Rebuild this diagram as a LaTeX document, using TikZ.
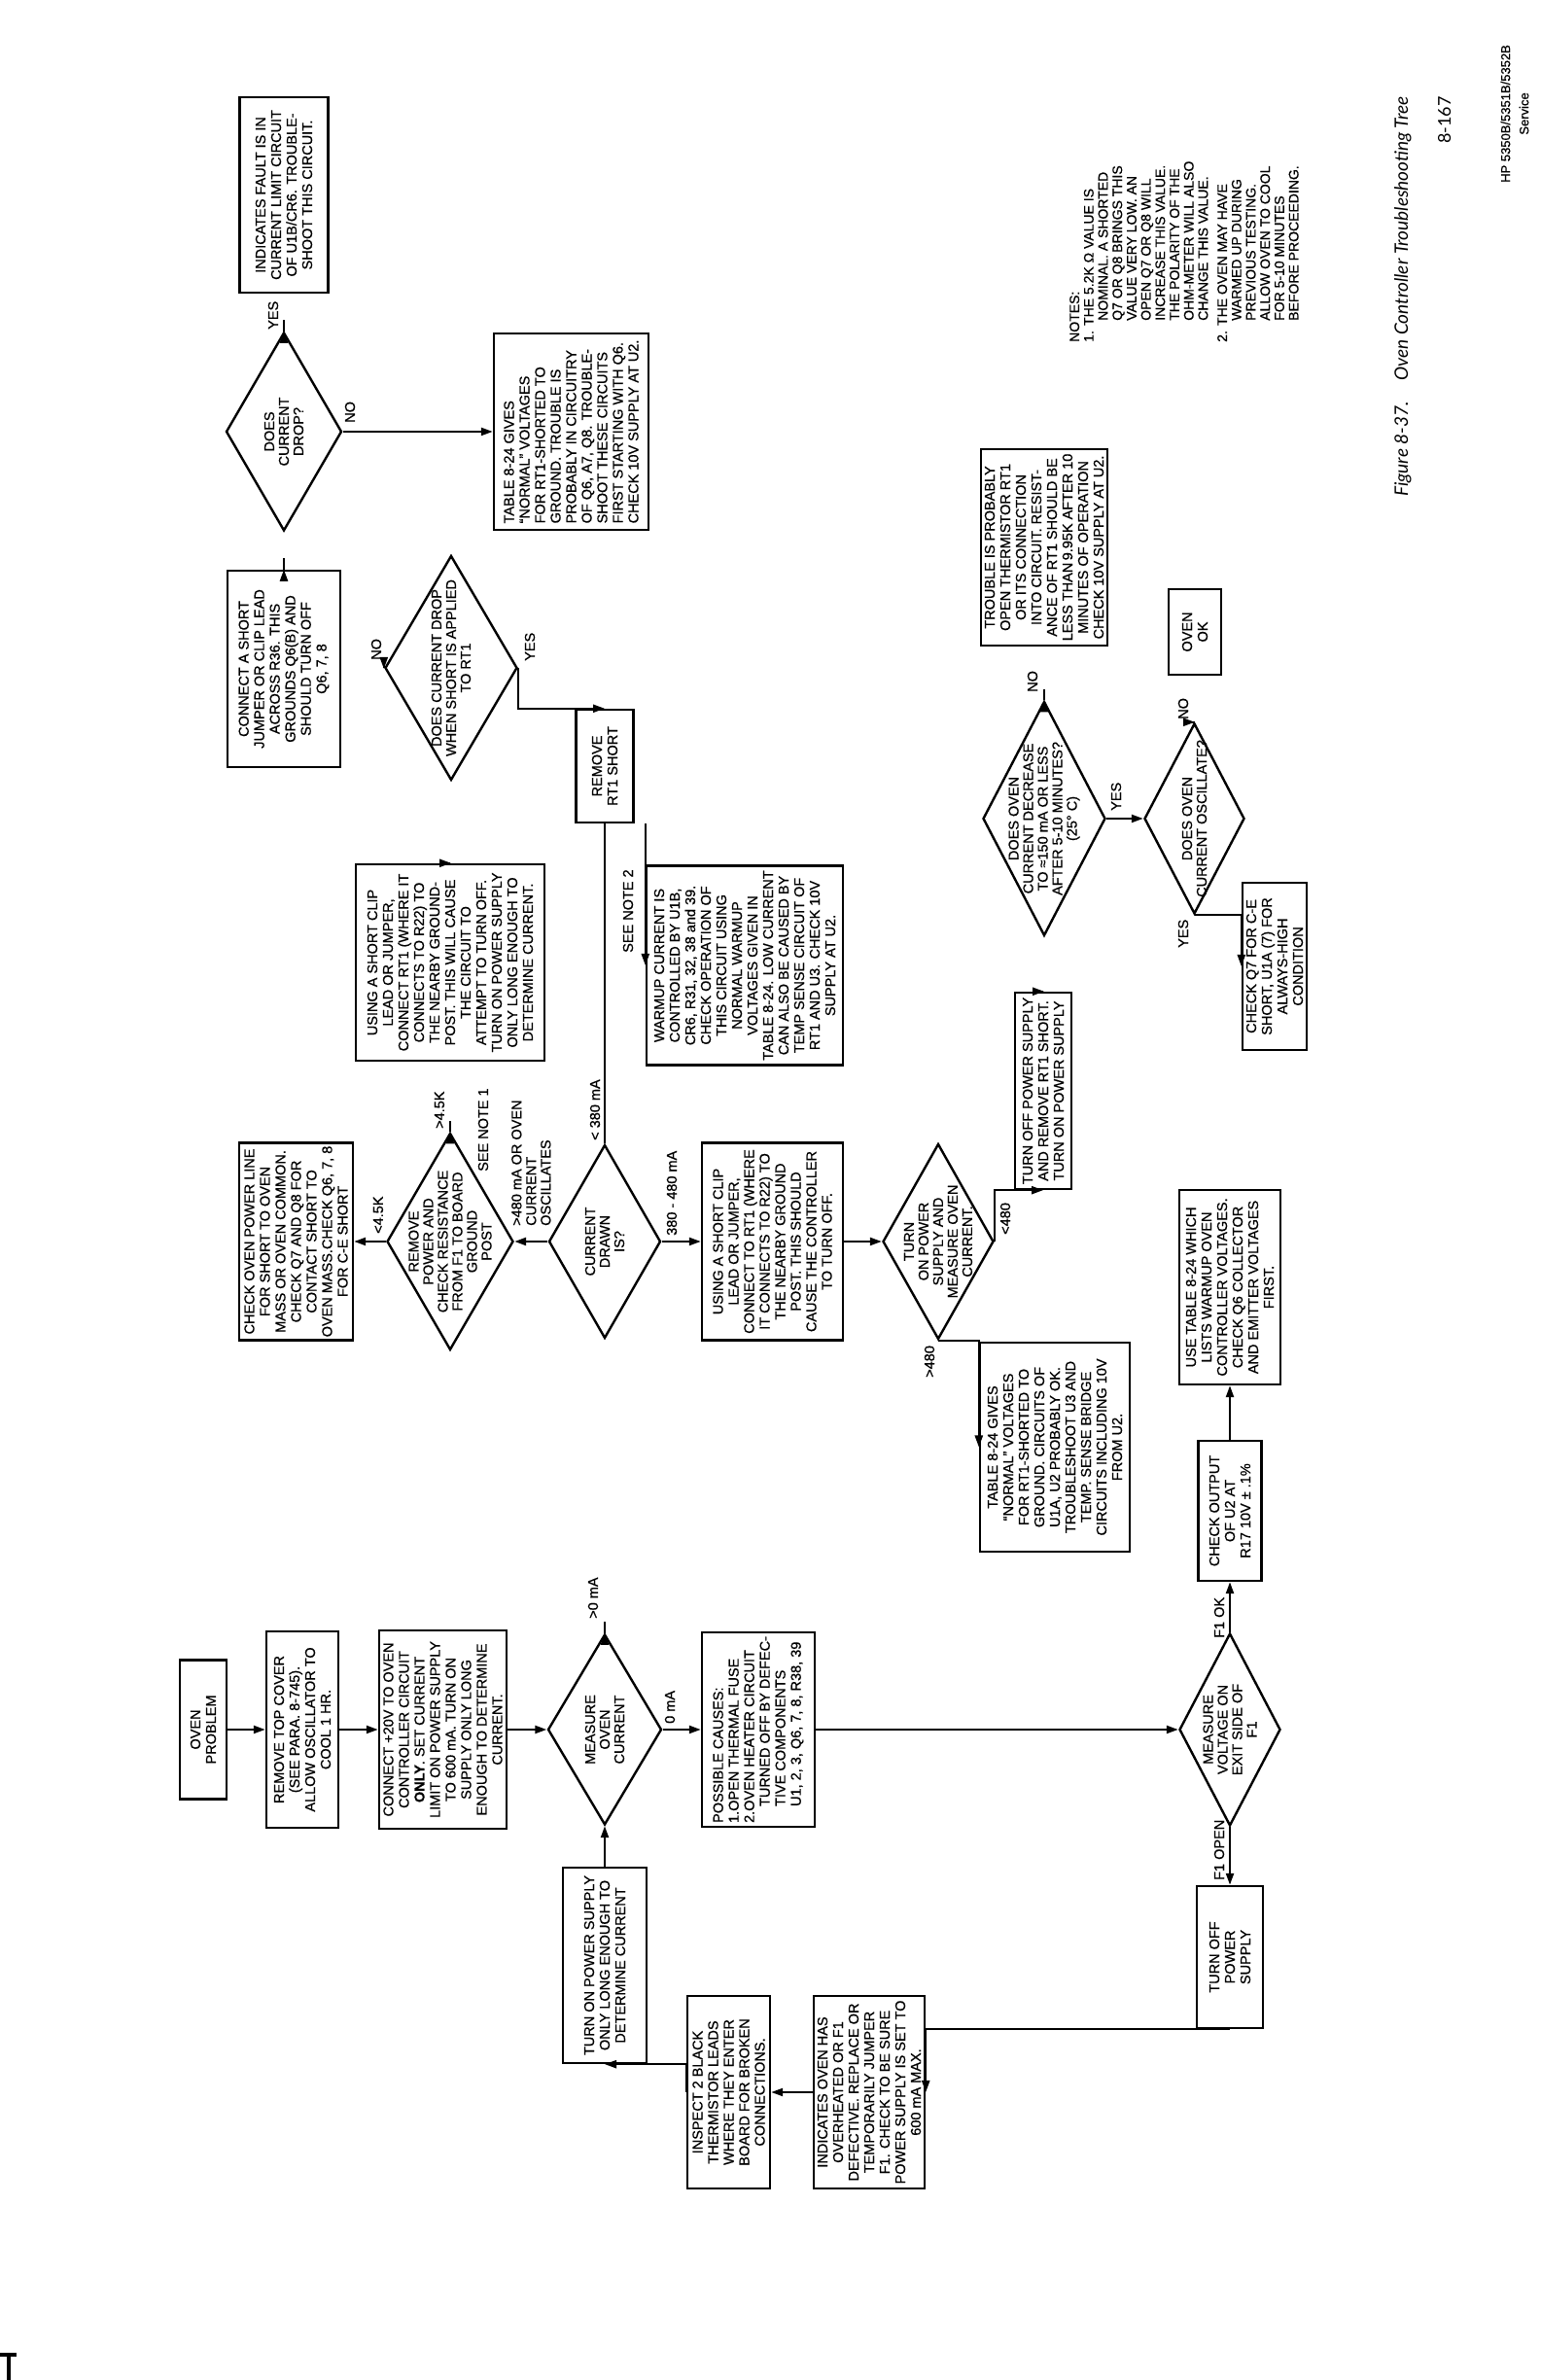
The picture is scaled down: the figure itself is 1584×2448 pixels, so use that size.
\documentclass[tikz,border=0pt]{standalone}
\usepackage{fontspec}
\setmainfont{Liberation Sans}[FakeBold=0.6]
\newfontfamily\capfont{Lato}
\usetikzlibrary{shapes.geometric,arrows.meta}
\newcommand\bxf{\fontsize{14.5}{16}\selectfont}
\newcommand\dmf{\fontsize{14.5}{15}\selectfont}
\newcommand\ntf{\fontsize{14}{14.7}\selectfont}
\begin{document}
\begin{tikzpicture}[x=1pt,y=1pt,
  box/.style={draw,line width=2.4pt,align=center,inner sep=1pt,font=\bxf},
  dia/.style={draw,diamond,line width=2.4pt,inner sep=0pt},
  dtx/.style={align=center,inner sep=0pt,font=\dmf},
  con/.style={line width=2.2pt},
  arr/.style={con,-{Triangle[length=12pt,width=8pt]}},
  lab/.style={inner sep=0pt,font=\bxf,anchor=west},
]
\fill[white] (0,0) rectangle (1584,2448);
\useasboundingbox (0,0) rectangle (1584,2448);
\fill[black] (0,24) rectangle (17,28);
\fill[black] (7,0) rectangle (11,28);
\begin{scope}[rotate=90,transform shape]
% ---------- column 1
\node[box,minimum width=143pt,minimum height=48pt] (X1) at (669,-209) {OVEN\\PROBLEM};
\node[box,minimum width=202pt,minimum height=74pt] (Y1) at (669,-311) {REMOVE TOP COVER\\(SEE PARA. 8-745).\\ALLOW OSCILLATOR TO\\COOL 1 HR.};
\node[box,minimum width=204pt,minimum height=131pt] (Z1) at (669,-455.5) {CONNECT +20V TO OVEN\\CONTROLLER CIRCUIT\\\textbf{ONLY}. SET CURRENT\\LIMIT ON POWER SUPPLY\\TO 600 mA. TURN ON\\SUPPLY ONLY LONG\\ENOUGH TO DETERMINE\\CURRENT.};
\node[dia,minimum width=196pt,minimum height=117pt] (AB) at (669,-622) {};
\node[dtx] (ABt) at (AB) {MEASURE\\OVEN\\CURRENT};
\node[box,minimum width=200pt,minimum height=116pt,align=left] (AC) at (669,-780) {POSSIBLE CAUSES:\\1.OPEN THERMAL FUSE\\2.OVEN HEATER CIRCUIT\\\hspace*{17pt}TURNED OFF BY DEFEC-\\\hspace*{17pt}TIVE COMPONENTS\\\hspace*{17pt}U1, 2, 3, Q6, 7, 8, R38, 39};
\node[dia,minimum width=198pt,minimum height=104pt] (W) at (669,-1265) {};
\node[dtx] (Wt) at (W) {MEASURE\\VOLTAGE ON\\EXIT SIDE OF\\F1};
\node[box,minimum width=201pt,minimum height=86pt] (AA) at (426.5,-622) {TURN ON POWER SUPPLY\\ONLY LONG ENOUGH TO\\DETERMINE CURRENT};
\node[box,minimum width=198pt,minimum height=85pt] (AD) at (296,-749.5) {INSPECT 2 BLACK\\THERMISTOR LEADS\\WHERE THEY ENTER\\BOARD FOR BROKEN\\CONNECTIONS.};
\node[box,minimum width=198pt,minimum height=114pt] (AE) at (296,-894) {INDICATES OVEN HAS\\OVERHEATED OR F1\\DEFECTIVE. REPLACE OR\\TEMPORARILY JUMPER\\F1. CHECK TO BE SURE\\POWER SUPPLY IS SET TO\\600 mA MAX.};
\node[box,minimum width=146pt,minimum height=68pt] (AF) at (435,-1265) {TURN OFF\\POWER\\SUPPLY};
\node[box,minimum width=144pt,minimum height=65pt] (V) at (894,-1265) {CHECK OUTPUT\\OF U2 AT\\R17 10V ± .1\%};
\node[box,minimum width=200pt,minimum height=104pt] (U) at (1124,-1265) {USE TABLE 8-24 WHICH\\LISTS WARMUP OVEN\\CONTROLLER VOLTAGES.\\CHECK Q6 COLLECTOR\\AND EMITTER VOLTAGES\\FIRST.};
\node[box,minimum width=215pt,minimum height=154pt] (N) at (959.5,-1085) {TABLE 8-24 GIVES\\“NORMAL” VOLTAGES\\FOR RT1-SHORTED TO\\GROUND. CIRCUITS OF\\U1A, U2 PROBABLY OK.\\TROUBLESHOOT U3 AND\\TEMP. SENSE BRIDGE\\CIRCUITS INCLUDING 10V\\FROM U2.};
% ---------- column I
\node[dia,minimum width=199pt,minimum height=115pt] (I) at (1171,-622) {};
\node[dtx] (It) at (I) {CURRENT\\DRAWN\\IS?};
\node[dia,minimum width=223pt,minimum height=130pt] (K) at (1171,-463) {};
\node[dtx] (Kt) at (K) {REMOVE\\POWER AND\\CHECK RESISTANCE\\FROM F1 TO BOARD\\GROUND\\POST};
\node[box,minimum width=203pt,minimum height=117pt] (L) at (1171,-304.5) {CHECK OVEN POWER LINE\\FOR SHORT TO OVEN\\MASS OR OVEN COMMON.\\CHECK Q7 AND Q8 FOR\\CONTACT SHORT TO\\OVEN MASS.CHECK Q6, 7, 8\\FOR C-E SHORT};
\node[box,minimum width=203pt,minimum height=145pt] (J) at (1171,-794.5) {USING A SHORT CLIP\\LEAD OR JUMPER,\\CONNECT TO RT1 (WHERE\\IT CONNECTS TO R22) TO\\THE NEARBY GROUND\\POST. THIS SHOULD\\CAUSE THE CONTROLLER\\TO TURN OFF.};
\node[dia,minimum width=201pt,minimum height=114pt] (M) at (1171,-965) {};
\node[dtx] (Mt) at (M) {TURN\\ON POWER\\SUPPLY AND\\MEASURE OVEN\\CURRENT.};
\node[box,minimum width=202pt,minimum height=58pt] (O) at (1326,-1073) {TURN OFF POWER SUPPLY\\AND REMOVE RT1 SHORT.\\TURN ON POWER SUPPLY};
% ---------- column G/H
\node[box,minimum width=202pt,minimum height=194pt] (G) at (1458,-463) {USING A SHORT CLIP\\LEAD OR JUMPER,\\CONNECT RT1 (WHERE IT\\CONNECTS TO R22) TO\\THE NEARBY GROUND-\\POST. THIS WILL CAUSE\\THE CIRCUIT TO\\ATTEMPT TO TURN OFF.\\TURN ON POWER SUPPLY\\ONLY LONG ENOUGH TO\\DETERMINE CURRENT.};
\node[box,minimum width=205pt,minimum height=202pt] (H) at (1455,-766) {WARMUP CURRENT IS\\CONTROLLED BY U1B,\\CR6, R31, 32, 38 and 39.\\CHECK OPERATION OF\\THIS CIRCUIT USING\\NORMAL WARMUP\\VOLTAGES GIVEN IN\\TABLE 8-24. LOW CURRENT\\CAN ALSO BE CAUSED BY\\TEMP SENSE CIRCUIT OF\\RT1 AND U3. CHECK 10V\\SUPPLY AT U2.};
\node[box,minimum width=172pt,minimum height=66pt] (T) at (1454,-1311) {CHECK Q7 FOR C-E\\SHORT, U1A (7) FOR\\ALWAYS-HIGH\\CONDITION};
\node[dia,minimum width=241pt,minimum height=126pt] (P) at (1606,-1074) {};
\node[dtx] (Pt) at (P) {DOES OVEN\\CURRENT DECREASE\\TO ≈150 mA OR LESS\\AFTER 5-10 MINUTES?\\(25° C)};
\node[dia,minimum width=196pt,minimum height=103pt] (R) at (1606,-1228.5) {};
\node[dtx] (Rt) at (R) {DOES OVEN\\CURRENT OSCILLATE?};
\node[box,minimum width=116pt,minimum height=59pt] (F) at (1660,-622) {REMOVE\\RT1 SHORT};
\node[dia,minimum width=231pt,minimum height=136pt] (E) at (1761,-464) {};
\node[dtx] (Et) at (E) {DOES CURRENT DROP\\WHEN SHORT IS APPLIED\\TO RT1};
\node[box,minimum width=202pt,minimum height=116pt] (D) at (1760,-292) {CONNECT A SHORT\\JUMPER OR CLIP LEAD\\ACROSS R36. THIS\\GROUNDS Q6(B) AND\\SHOULD TURN OFF\\Q6, 7, 8};
\node[box,minimum width=88pt,minimum height=54pt] (S) at (1798,-1229) {OVEN\\OK};
\node[box,minimum width=202pt,minimum height=130pt] (Q) at (1885,-1074) {TROUBLE IS PROBABLY\\OPEN THERMISTOR RT1\\OR ITS CONNECTION\\INTO CIRCUIT. RESIST-\\ANCE OF RT1 SHOULD BE\\LESS THAN\,9.95K AFTER 10\\MINUTES OF OPERATION\\CHECK 10V SUPPLY AT U2.};
\node[dia,minimum width=204pt,minimum height=119pt] (B) at (2004,-292) {};
\node[dtx] (Bt) at (B) {DOES\\CURRENT\\DROP?};
\node[box,minimum width=202pt,minimum height=159pt,align=left] (C) at (2004,-587.5) {TABLE 8-24 GIVES\\“NORMAL” VOLTAGES\\FOR RT1-SHORTED TO\\GROUND. TROUBLE IS\\PROBABLY IN CIRCUITRY\\OF Q6, A7, Q8. TROUBLE-\\SHOOT THESE CIRCUITS\\FIRST STARTING WITH Q6.\\CHECK 10V SUPPLY AT U2.};
\node[box,minimum width=201pt,minimum height=91pt] (A) at (2247.5,-292) {INDICATES FAULT IS IN\\CURRENT LIMIT CIRCUIT\\OF U1B/CR6. TROUBLE-\\SHOOT THIS CIRCUIT.};
% ---------- connectors (|- and -| are in page frame)
\draw[arr] (X1.south) -- (Y1.north);
\draw[arr] (Y1.south) -- (Z1.north);
\draw[arr] (Z1.south) -- (AB.north);
\draw[arr] (AB.east) -- (AB.east |- I.west);
\draw[arr] (AB.south) -- (AC.north);
\draw[arr] (AC.south) -- (W.north);
\draw[arr] (W.east) -- (V.west);
\draw[arr] (V.east) -- (U.west);
\draw[arr] (W.west) -- (AF.east);
\draw[arr] (AF.west) |- (AE.south);
\draw[arr] (AE.north) -- (AD.south);
\draw[arr] (AD.north) -| (AA.west);
\draw[arr] (AA.east) -- (AB.west);
\draw[arr] (I.south) -- (J.north);
\draw[arr] (I.north) -- (K.south);
\draw[arr] (K.north) -- (L.south);
\draw[arr] (K.east) -- (K.east |- G.west);
\draw[arr] (G.east) -- (G.east |- E.west);
\draw[arr] (E.north) -- (E.north -| D.south);
\draw[arr] (E.south) -| (F.east);
\draw[arr] (D.east) -- (D.east |- B.west);
\draw[arr] (B.east) -- (B.east |- A.west);
\draw[arr] (B.south) -- (C.north);
\draw[con] (I.east) -- (F.west);
\coordinate (jn) at (H.north -| F.west);
\draw[arr] (jn) -- (H.north);
\draw[arr] (J.south) -- (M.north);
\draw[arr] (M.west) |- (N.north);
\draw[arr] (M.south) -| (O.west);
\draw[arr] (O.east) -- (O.east |- P.west);
\draw[arr] (P.east) -- (P.east |- Q.west);
\draw[arr] (P.south) -- (R.north);
\draw[arr] (R.east) -- (R.east |- S.west);
\draw[arr] (R.west) |- (T.north);
% ---------- labels
\node[lab] (l1) at (2109,-281) {YES};
\node[lab] (l2) at (2013,-360) {NO};
\node[lab] (l3) at (1769,-387) {NO};
\node[lab] (l4) at (1768,-545) {YES};
\node[lab] (l5) at (1287,-452) {>4.5K};
\node[lab] (l6) at (1243,-497) {SEE NOTE 1};
\node[lab] (l7) at (1179,-389) {<4.5K};
\node[inner sep=0pt,anchor=north west,align=left,font=\dmf] (l8) at (1187,-526) {>480 mA OR OVEN\\CURRENT\\OSCILLATES};
\node[lab] (l9) at (1177,-691) {380 - 480 mA};
\node[lab] (l10) at (1275,-612) {< 380 mA};
\node[lab] (l11) at (1468,-646) {SEE NOTE 2};
\node[lab] (l12) at (783,-610) {>0 mA};
\node[lab] (l13) at (675,-689) {0 mA};
\node[lab] (l14) at (763,-1254) {F1 OK};
\node[lab] (l15) at (514,-1254) {F1 OPEN};
\node[lab] (l16) at (1031,-956) {>480};
\node[lab] (l17) at (1178,-1034) {<480};
\node[lab] (l18) at (1736,-1062) {NO};
\node[lab] (l19) at (1614,-1148) {YES};
\node[lab] (l20) at (1708,-1217) {NO};
\node[lab] (l21) at (1473,-1217) {YES};
% ---------- notes, caption, page
\node[anchor=north west,align=left,inner sep=0pt,font=\ntf] (notes) at (2096,-1100) {NOTES:\\
1. THE 5.2K Ω VALUE IS\\
\hspace*{22pt}NOMINAL. A SHORTED\\
\hspace*{22pt}Q7 OR Q8 BRINGS THIS\\
\hspace*{22pt}VALUE VERY LOW. AN\\
\hspace*{22pt}OPEN Q7 OR Q8 WILL\\
\hspace*{22pt}INCREASE THIS VALUE.\\
\hspace*{22pt}THE POLARITY OF THE\\
\hspace*{22pt}OHM-METER WILL ALSO\\
\hspace*{22pt}CHANGE THIS VALUE.\\[5pt]
2. THE OVEN MAY HAVE\\
\hspace*{22pt}WARMED UP DURING\\
\hspace*{22pt}PREVIOUS TESTING.\\
\hspace*{22pt}ALLOW OVEN TO COOL\\
\hspace*{22pt}FOR 5-10 MINUTES\\
\hspace*{22pt}BEFORE PROCEEDING.};
\node[anchor=base east,inner sep=0pt,font={\capfont\itshape\fontsize{19}{22}\selectfont}] (cap) at (2349,-1448) {Figure 8-37.\hspace{22pt}Oven Controller Troubleshooting Tree};
\node[anchor=base east,inner sep=0pt,font={\capfont\fontsize{18}{20}\selectfont}] (pg) at (2349,-1492) {8-167};
\node[align=center,inner sep=0pt,font={\fontsize{13}{19}\selectfont}] (hdr) at (2331,-1558) {HP 5350B/5351B/5352B\\Service};
\end{scope}
\end{tikzpicture}
\end{document}
